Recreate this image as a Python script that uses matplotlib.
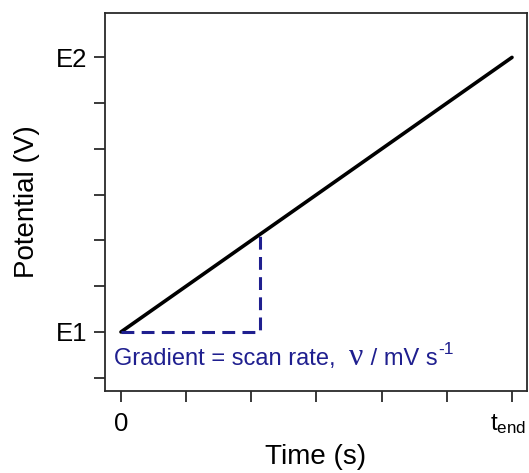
import matplotlib
matplotlib.use("Agg")
import matplotlib.pyplot as plt
from matplotlib.transforms import ScaledTranslation

plt.rcParams['font.family'] = ['Liberation Sans', 'DejaVu Sans']
plt.rcParams['mathtext.fontset'] = 'custom'
plt.rcParams['mathtext.rm'] = 'Liberation Sans'

# Linear potential sweep from E1 to E2
time = [0, 6]
potential = [0, 6]

# Slope triangle marking the scan rate
tri_x = [0, 2.14, 2.14]
tri_y = [0, 0, 2.14]

x_ticks = [0, 1, 2, 3, 4, 5, 6]
x_labels = ['0', '', '', '', '', '', r'$\mathregular{t_{end}}$']
y_ticks = [-1, 0, 1, 2, 3, 4, 5, 6]
y_labels = ['', 'E1', '', '', '', '', '', 'E2']

navy = '#1f1f8f'
frame = '#2a2a2a'

fig = plt.figure(figsize=(5.29, 4.73), dpi=100)
ax = fig.add_axes([0.1985, 0.1734, 0.7977, 0.7991])

ax.plot(time, potential, color='black', lw=2.6, solid_capstyle='round')
ax.plot(tri_x, tri_y, color=navy, lw=2.2, linestyle=(0, (4.2, 2.4)))

ax.set_xlim(-0.245, 6.23)
ax.set_ylim(-1.29, 6.97)

ax.set_xticks(x_ticks)
ax.set_xticklabels(x_labels)
ax.set_yticks(y_ticks)
ax.set_yticklabels(y_labels)

for s in ax.spines.values():
    s.set_color(frame)
    s.set_linewidth(1.3)

ax.tick_params(axis='both', direction='out', length=8, width=1.3, color=frame,
               labelsize=18.5, pad=5)
ax.tick_params(axis='x', pad=7)

# keep the t_end label inside the canvas
end_label = ax.get_xticklabels()[-1]
end_label.set_fontsize(17.5)
end_label.set_transform(end_label.get_transform()
                        + ScaledTranslation(-3 / 72, 0, fig.dpi_scale_trans))

ax.set_xlabel('Time (s)', fontsize=20, labelpad=6)
ax.set_ylabel('Potential (V)', fontsize=20, labelpad=11)

# Annotation: text, a larger serif nu, units with a raised exponent
txt_kw = dict(color=navy, ha='left', va='baseline')
t1 = ax.text(-0.1, -0.72, 'Gradient = scan rate,  ', fontsize=17, **txt_kw)
t2 = ax.annotate('\u03bd', xy=(1, 0), xycoords=t1, xytext=(0, 3.6),
                 textcoords='offset points', fontsize=23,
                 family='Liberation Serif', **txt_kw)
t3 = ax.annotate(' / mV s', xy=(1, 0), xycoords=t2, xytext=(0, 4.8),
                 textcoords='offset points', fontsize=17, **txt_kw)
t4 = ax.annotate('-1', xy=(1, 0), xycoords=t3, xytext=(0.5, 12),
                 textcoords='offset points', fontsize=12.5, **txt_kw)

fig.savefig('out.png', dpi=100)
